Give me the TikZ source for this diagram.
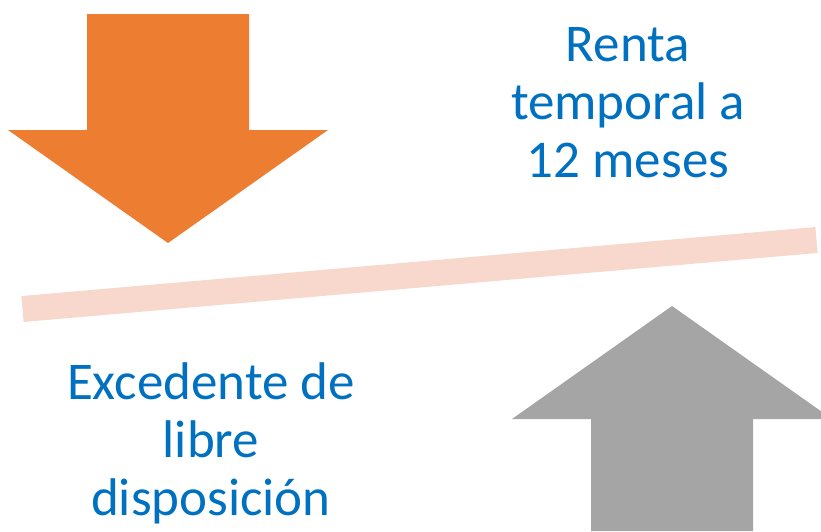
\documentclass[tikz,border=0pt]{standalone}
\usepackage{fontspec}
\setmainfont{Carlito}
\definecolor{flechanaranja}{HTML}{ED7D31}
\definecolor{flechagris}{HTML}{A5A5A5}
\definecolor{barrarosa}{HTML}{F8D8CD}
\definecolor{textoazul}{HTML}{0070C0}
\tikzset{
	rotulo/.style={text=textoazul,align=center,inner sep=0pt,font=\fontsize{53}{58}\selectfont},
}
\begin{document}
\begin{tikzpicture}[x=1pt,y=-1pt]
	\useasboundingbox (0,0) rectangle (821,531);
	\clip (0,0) rectangle (821,531);
	% flechas
	\fill[flechanaranja] (87,14) -- (249,14) -- (249,130) -- (328,130) -- (168,243) -- (8,130) -- (87,130) -- cycle;
	\fill[flechagris] (591,531) -- (753,531) -- (753,419) -- (832,419) -- (672,306) -- (512,419) -- (591,419) -- cycle;
	% barra
	\draw[barrarosa,line width=26pt] (22.5,309) -- (816.5,240);
	% textos
	\node[rotulo,anchor=base] (renta) at (628,177) {Renta\\temporal a\\12 meses};
	\node[rotulo,anchor=base] (excedente) at (211,515) {Excedente de\\libre\\disposición};
\end{tikzpicture}
\end{document}
